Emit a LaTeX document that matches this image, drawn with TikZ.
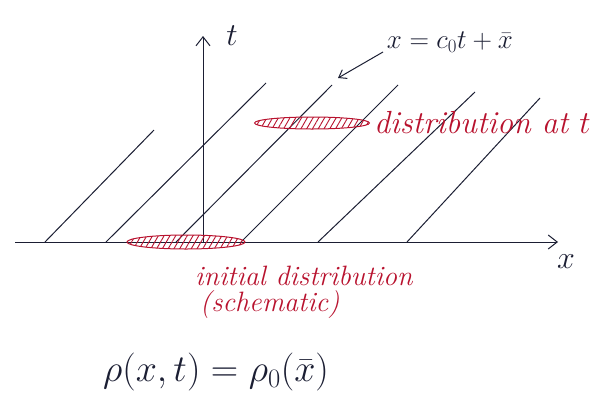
\RequirePackage{fix-cm}
\documentclass[tikz,border=0pt]{standalone}
\usetikzlibrary{arrows.meta,shapes.geometric,patterns.meta}
\definecolor{ink}{HTML}{1B1E33}
\definecolor{redink}{HTML}{B8122E}
\tikzset{
  axis/.style={draw=ink, line width=1pt, -{Straight Barb[length=9pt,width=14pt,line width=1pt]}},
  charline/.style={draw=ink, line width=1pt},
  pointer/.style={draw=ink, line width=1pt, -{Straight Barb[length=7pt,width=10pt,line width=1pt]}},
  blob/.style={ellipse, draw=redink, line width=1pt, inner sep=0pt,
    pattern={Lines[angle=60,distance=5pt,line width=0.9pt]}, pattern color=redink},
  redtext/.style={text=redink, font=\fontsize{28}{32}\selectfont\itshape, inner sep=0pt},
  inktext/.style={text=ink, font=\fontsize{32}{36}\selectfont, inner sep=0pt}
}
\begin{document}
\begin{tikzpicture}[x=1pt,y=-1pt]
\useasboundingbox (0,0) rectangle (605,410);
% characteristic lines
\foreach \i/\a/\b/\c/\d in {1/45/242/154/130, 2/106/242/266/83, 3/176/242/332/85,
                            4/241/242/398/85, 5/318/242/475/92, 6/407/242/540/98}{
  \coordinate (c\i s) at (\a,\b);
  \coordinate (c\i e) at (\c,\d);
  \draw[charline] (c\i s) -- (c\i e);
}
% axes
\coordinate (xs) at (15,242);
\coordinate (xe) at (558,242);
\coordinate (ts) at (203,242);
\coordinate (te) at (203,36);
\draw[axis] (xs) -- (xe);
\draw[axis] (ts) -- (te);
\node[inktext] (tl) at (232,36) {$t$};
\node[inktext] (xl) at (566,262) {$x$};
% characteristic label
\node[inktext, font=\fontsize{27}{31}\selectfont] (eq) at (450,42) {$x = c_0t+\bar{x}$};
\coordinate (ps) at (383,52);
\coordinate (tip) at (338,78);
\draw[pointer] (ps) -- (tip);
% distributions
\node[blob, minimum width=115, minimum height=12] (distT) at (312,123) {};
\node[redtext, anchor=west, font=\fontsize{32}{36}\selectfont\itshape] (distTl) at (374,123) {distribution at $t$};
\node[blob, minimum width=118, minimum height=14] (dist0) at (186,242) {};
\node[redtext, anchor=west] (init) at (195,276) {initial distribution};
\node[redtext, anchor=west] (schem) at (200,305) {(schematic)};
% formula
\node[inktext, font=\fontsize{38}{43}\selectfont] (formula) at (216,372) {$\rho(x,t) = \rho_0(\bar{x})$};
\end{tikzpicture}
\end{document}
